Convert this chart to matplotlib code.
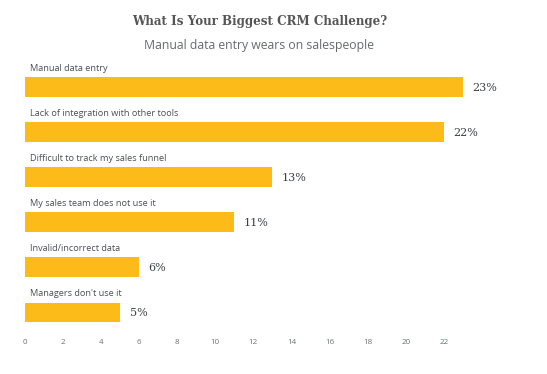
import matplotlib
matplotlib.use("Agg")
import matplotlib.pyplot as plt

categories = [
    "Manual data entry",
    "Lack of integration with other tools",
    "Difficult to track my sales funnel",
    "My sales team does not use it",
    "Invalid/incorrect data",
    "Managers don't use it",
]
values = [23, 22, 13, 11, 6, 5]
xticks = [0, 2, 4, 6, 8, 10, 12, 14, 16, 18, 20, 22]

BAR = "#FDBB1A"
W, H = 547, 374

fig = plt.figure(figsize=(W / 100, H / 100), dpi=100, facecolor="white")
ax = fig.add_axes([25 / W, 1 - 335 / H, 514 / W, 275 / H])

pos = list(range(len(categories)))
ax.barh(pos, values, height=0.44, color=BAR, edgecolor="none")
for i, (cat, v) in enumerate(zip(categories, values)):
    ax.text(0.27, i - 0.41, cat, ha="left", va="center", fontsize=6.6,
            family="Open Sans", color="#4a4f55")
    ax.text(v + 0.5, i + 0.02, f"{v}%", ha="left", va="center", fontsize=8,
            family="DejaVu Serif", color="#3a3f45")

ax.set_xlim(0, 27)
ax.set_ylim(5.5, -0.6)
ax.set_xticks(xticks)
ax.set_xticklabels([str(t) for t in xticks], family="Open Sans", fontsize=5.8, color="#6b7178")
ax.set_yticks([])
ax.tick_params(axis="x", length=0, pad=3)
for s in ax.spines.values():
    s.set_visible(False)

fig.text(259.5 / W, 1 - 22 / H, "What Is Your Biggest CRM Challenge?", ha="center", va="center",
         fontsize=8.6, fontweight="bold", family="DejaVu Serif", color="#555555")
fig.text(259.5 / W, 1 - 45 / H, "Manual data entry wears on salespeople", ha="center", va="center",
         fontsize=8.8, family="Open Sans", color="#666a70")

fig.savefig("out.png", dpi=100, facecolor="white")
